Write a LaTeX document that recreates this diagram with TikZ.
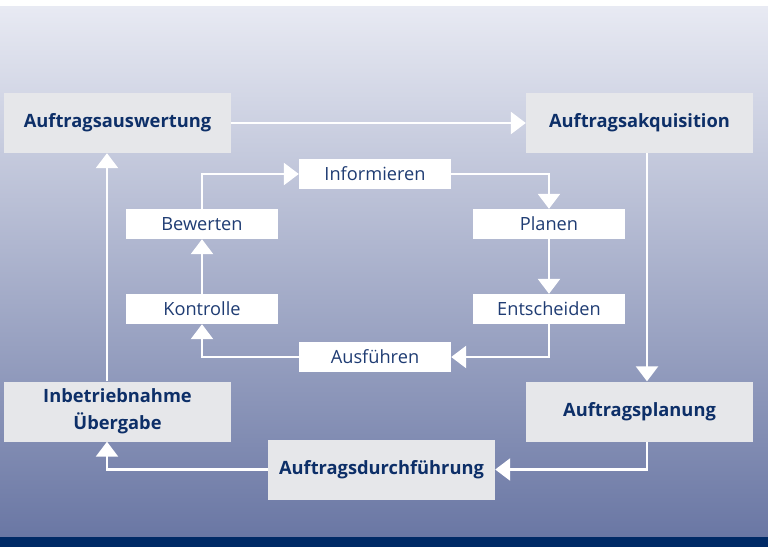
\documentclass[tikz,border=0pt]{standalone}
\usepackage{fontspec}
\setmainfont{Open Sans}
\usetikzlibrary{arrows.meta}

\definecolor{bgtop}{HTML}{E8EAF3}
\definecolor{bgbot}{HTML}{6A77A4}
\definecolor{navybar}{HTML}{002A66}
\definecolor{boxgray}{HTML}{E6E7EA}
\definecolor{textblue}{HTML}{0D2F68}
\definecolor{innerblue}{HTML}{1F3C73}

\begin{document}
\begin{tikzpicture}[x=1pt,y=-1pt,
  phase/.style={fill=boxgray, minimum width=227pt, minimum height=60pt, inner sep=0pt,
    align=center, text=textblue, font=\fontsize{18.3}{27}\selectfont\bfseries},
  step box/.style={fill=white, minimum width=152pt, minimum height=30pt, inner sep=0pt,
    text=innerblue, font=\fontsize{18.2}{22}\selectfont},
  flow/.style={draw=white, line width=2.6pt, -{Triangle[length=15pt,width=22pt]}}]
  \useasboundingbox (0,0) rectangle (768,547);
  \fill[white] (0,0) rectangle (768,6);
  \shade[top color=bgtop, bottom color=bgbot] (0,6) rectangle (768,537);
  \fill[navybar] (0,537) rectangle (768,547);

  % outer cycle
  \node[phase] (auswertung) at (117.5,123) {Auftragsauswertung};
  \node[phase] (akquisition) at (639.5,123) {Auftragsakquisition};
  \node[phase] (planung) at (639.5,411.5) {Auftragsplanung};
  \node[phase] (durchfuehrung) at (381.5,469.5) {Auftragsdurchführung};
  \node[phase] (inbetrieb) at (117.5,411.5) {Inbetriebnahme\\Übergabe};

  % inner cycle
  \node[step box] (informieren) at (375,174) {Informieren};
  \node[step box] (planen) at (549,224) {Planen};
  \node[step box] (entscheiden) at (549,309) {Entscheiden};
  \node[step box] (ausfuehren) at (375,357) {Ausführen};
  \node[step box] (kontrolle) at (202,309) {Kontrolle};
  \node[step box] (bewerten) at (202,224) {Bewerten};

  \draw[flow] (auswertung.east) -- (akquisition.west);
  \draw[flow] ([xshift=7.5pt]akquisition.south) -- ([xshift=7.5pt]planung.north);
  \draw[flow] ([xshift=7.5pt]planung.south) |- (durchfuehrung.east);
  \draw[flow] (durchfuehrung.west) -| ([xshift=-10.5pt]inbetrieb.south);
  \draw[flow] ([xshift=-10.5pt]inbetrieb.north) -- ([xshift=-10.5pt]auswertung.south);

  \draw[flow] (informieren.east) -| (planen.north);
  \draw[flow] (planen.south) -- (entscheiden.north);
  \draw[flow] (entscheiden.south) |- (ausfuehren.east);
  \draw[flow] (ausfuehren.west) -| (kontrolle.south);
  \draw[flow] (kontrolle.north) -- (bewerten.south);
  \draw[flow] (bewerten.north) |- (informieren.west);
\end{tikzpicture}
\end{document}
